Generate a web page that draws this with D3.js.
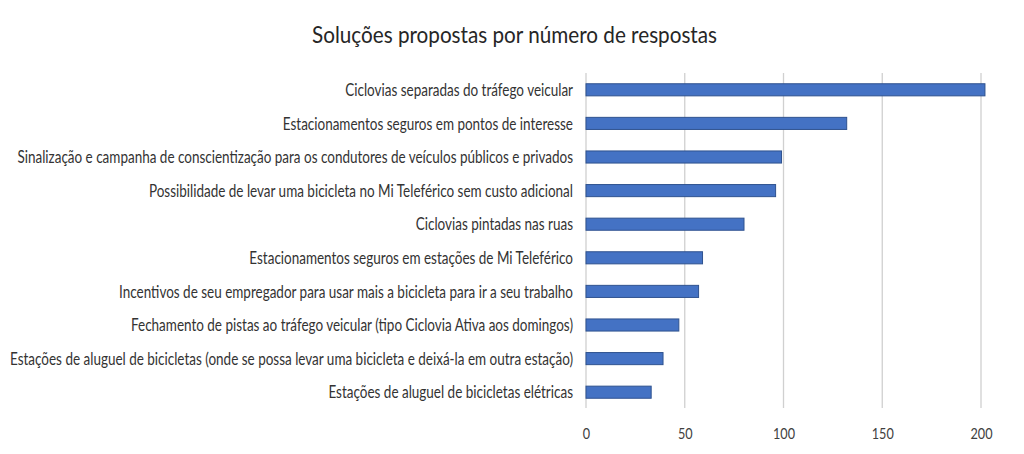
<!DOCTYPE html>
<html><head><meta charset="utf-8">
<script src="https://cdn.jsdelivr.net/npm/d3@7"></script>
<style>
html,body{margin:0;padding:0;background:#fff;}
svg{display:block;}
</style>
</head><body>
<svg id="chart" width="1024" height="454"></svg>
<script>
const title = "Soluções propostas por número de respostas";
const categories = [
  "Ciclovias separadas do tráfego veicular",
  "Estacionamentos seguros em pontos de interesse",
  "Sinalização e campanha de conscientização para os condutores de veículos públicos e privados",
  "Possibilidade de levar uma bicicleta no Mi Teleférico sem custo adicional",
  "Ciclovias pintadas nas ruas",
  "Estacionamentos seguros em estações de Mi Teleférico",
  "Incentivos de seu empregador para usar mais a bicicleta para ir a seu trabalho",
  "Fechamento de pistas ao tráfego veicular (tipo Ciclovia Ativa aos domingos)",
  "Estações de aluguel de bicicletas (onde se possa levar uma bicicleta e deixá-la em outra estação)",
  "Estações de aluguel de bicicletas elétricas"
];
const values = [202, 132, 99, 96, 80, 59, 57, 47, 39, 33];
const xTicks = [0, 50, 100, 150, 200];

const svg = d3.select("#chart");
const fontFam = "Lato,'Open Sans',sans-serif";

const x = d3.scaleLinear().domain([0, 200]).range([586, 981]);
const y = d3.scaleBand().domain(categories).range([73, 409]).paddingInner(0.64).paddingOuter(0.32);

// compress text horizontally (reference glyphs are tall and narrow)
function squeeze(sel, factor) {
  sel.each(function () {
    const w = this.getComputedTextLength();
    d3.select(this).attr("textLength", w * factor).attr("lengthAdjust", "spacingAndGlyphs");
  });
}

const t = svg.append("text")
  .attr("x", 514.5).attr("y", 43)
  .attr("text-anchor", "middle")
  .attr("font-family", fontFam)
  .attr("font-size", 23)
  .attr("fill", "#262626")
  .text(title);
{ const w = t.node().getComputedTextLength(); squeeze(t, 405 / w); }

// gridlines
svg.append("g").selectAll("line").data(xTicks).join("line")
  .attr("x1", d => x(d)).attr("x2", d => x(d))
  .attr("y1", 73).attr("y2", 408)
  .attr("stroke", "#d0d0d0").attr("stroke-width", 1.3);

// bars
svg.append("g").selectAll("rect").data(values).join("rect")
  .attr("x", x(0))
  .attr("y", (d, i) => y(categories[i]))
  .attr("width", d => x(d) - x(0))
  .attr("height", y.bandwidth())
  .attr("fill", "#4472c4")
  .attr("stroke", "#2f528f")
  .attr("stroke-width", 1);

// category labels
const labels = svg.append("g").selectAll("text").data(categories).join("text")
  .attr("x", 573)
  .attr("y", d => y(d) + y.bandwidth() / 2)
  .attr("dy", "0.36em")
  .attr("text-anchor", "end")
  .attr("font-family", fontFam)
  .attr("font-size", 17)
  .attr("fill", "#333333")
  .text(d => d);
let maxW = 0;
labels.each(function(){ maxW = Math.max(maxW, this.getComputedTextLength()); });
squeeze(labels, 563 / maxW);

// x axis tick labels
const xAxis = d3.axisBottom(x).tickValues(xTicks).tickSize(0).tickPadding(0);
const gx = svg.append("g").attr("transform", "translate(0,438.5)").call(xAxis);
gx.select(".domain").remove();
const tl = gx.selectAll("text")
  .attr("dy", null)
  .attr("font-family", fontFam)
  .attr("font-size", 16)
  .attr("fill", "#404040");
let w200 = 0;
tl.each(function(d){ if (d === 200) w200 = this.getComputedTextLength(); });
squeeze(tl, 22 / w200);
</script>
</body></html>
